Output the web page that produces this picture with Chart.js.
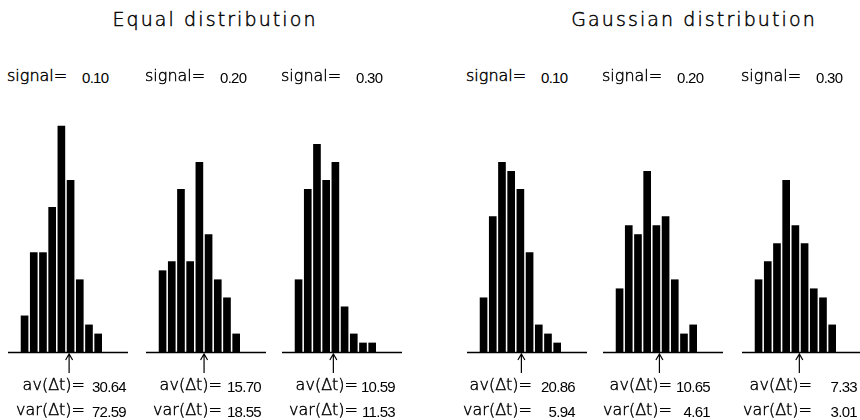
<!DOCTYPE html>
<html>
<head>
<meta charset="utf-8">
<script src="https://cdn.jsdelivr.net/npm/chart.js@4.4.1/dist/chart.umd.min.js"></script>
<style>
  html, body { margin: 0; padding: 0; background: #fff; }
  #stage { position: relative; width: 860px; height: 420px; overflow: hidden; }
  #stage canvas { position: absolute; }
  .txt { position: absolute; white-space: pre; color: #000; line-height: 1; }
  .thin { font-family: 'DejaVu Sans', sans-serif; font-weight: 200; -webkit-text-stroke: 0.45px #000; }
  .title { font-size: 19px; letter-spacing: 2.1px; text-align: center; width: 300px; }
  .lab { font-size: 16px; }
  .num { font-family: 'Liberation Sans Narrow', 'Liberation Sans', sans-serif; font-size: 15px; letter-spacing: -0.7px; }
  .rnum { text-align: right; width: 50px; }
  .stat { font-size: 16px; text-align: right; width: 100px; }
</style>
</head>
<body>
<div id="stage"></div>
<script>
// two groups of three histograms
const groupTitles = ['Equal distribution', 'Gaussian distribution'];
const signals = [0.10, 0.20, 0.30, 0.10, 0.20, 0.30];
const bins = [1, 2, 3, 4, 5, 6, 7, 8, 9];

// counts per bin
const counts1 = [4, 11, 11, 16, 25, 19, 8, 3, 2];
const counts2 = [9, 10, 18, 10, 21, 13, 8, 6, 2];
const counts3 = [8, 18, 23, 19, 21, 5, 2, 1, 1];
const counts4 = [6, 15, 21, 20, 18, 11, 3, 2, 1];
const counts5 = [7, 14, 13, 20, 14, 15, 8, 2, 3];
const counts6 = [8, 10, 12, 19, 14, 12, 7, 6, 3];
const allCounts = [counts1, counts2, counts3, counts4, counts5, counts6];

const avDt = [30.64, 15.70, 10.59, 20.86, 10.65, 7.33];
const varDt = [72.59, 18.55, 11.53, 5.94, 4.61, 3.01];
// arrow marker position, in bin units
const arrowAt = [5.84, 5.51, 4.78, 5.11, 5.33, 5.43];

// layout
const axisLeft = [8, 146, 282, 467, 603, 742];
const titleCenter = [215, 694];
const statEqRight = [85, 222, 358, 532, 672, 812];
const statNumRight = [126, 261, 395, 575, 710, 857];
const CANVAS_TOP = 90, CANVAS_H = 300, PAD = 10, AXIS_W = 120;

const stage = document.getElementById('stage');

function addText(cls, text, left, top) {
    const d = document.createElement('div');
    d.className = 'txt ' + cls;
    d.textContent = text;
    d.style.left = left + 'px';
    d.style.top = top + 'px';
    stage.appendChild(d);
    return d;
}

// baseline + arrow drawn from the chart's own scales
const axisArrow = {
    id: 'axisArrow',
    afterDatasetsDraw(chart, args, opts) {
        const { ctx, chartArea, scales } = chart;
        const y0 = scales.y.getPixelForValue(0);
        ctx.save();
        ctx.strokeStyle = '#000';
        ctx.lineWidth = 1.4;
        ctx.beginPath();
        ctx.moveTo(chartArea.left, y0 + 0.5);
        ctx.lineTo(chartArea.right, y0 + 0.5);
        ctx.stroke();

        const ax = scales.x.getPixelForValue(opts.at);
        ctx.lineWidth = 1.2;
        ctx.beginPath();
        ctx.moveTo(ax, y0 + 2);
        ctx.lineTo(ax, y0 + 21);
        ctx.moveTo(ax - 3.5, y0 + 8);
        ctx.lineTo(ax, y0 + 2);
        ctx.lineTo(ax + 3.5, y0 + 8);
        ctx.stroke();
        ctx.restore();
    }
};

groupTitles.forEach((t, g) => {
    addText('thin title', t, titleCenter[g] - 150, 10);
});

allCounts.forEach((counts, i) => {
    const L = axisLeft[i];

    const cv = document.createElement('canvas');
    cv.style.left = (L - PAD) + 'px';
    cv.style.top = CANVAS_TOP + 'px';
    cv.style.width = (AXIS_W + 2 * PAD) + 'px';
    cv.style.height = CANVAS_H + 'px';
    cv.width = AXIS_W + 2 * PAD;
    cv.height = CANVAS_H;
    stage.appendChild(cv);

    new Chart(cv, {
        type: 'bar',
        data: {
            datasets: [{
                data: bins.map((b, k) => ({ x: b, y: counts[k] })),
                backgroundColor: '#000',
                borderWidth: 0,
                barThickness: 7
            }]
        },
        options: {
            responsive: false,
            animation: false,
            events: [],
            layout: { padding: { left: PAD, right: PAD, top: 0, bottom: 38 } },
            plugins: {
                legend: { display: false },
                tooltip: { enabled: false },
                axisArrow: { at: arrowAt[i] }
            },
            scales: {
                x: { type: 'linear', display: false, offset: false, min: -0.8, max: 12.24 },
                y: { display: false, min: 0, max: 29 }
            }
        },
        plugins: [axisArrow]
    });

    // signal label above
    addText('thin lab', 'signal=', L - 1, 68);
    addText('num', signals[i].toFixed(2), L + 74, 70);

    // stats below
    const E = statEqRight[i], R = statNumRight[i];
    addText('thin stat', 'av(\u0394t)=', E - 100, 377);
    addText('thin stat', 'var(\u0394t)=', E - 100, 402);
    addText('num rnum', avDt[i].toFixed(2), R - 50, 379);
    addText('num rnum', varDt[i].toFixed(2), R - 50, 404);
});
</script>
</body>
</html>
